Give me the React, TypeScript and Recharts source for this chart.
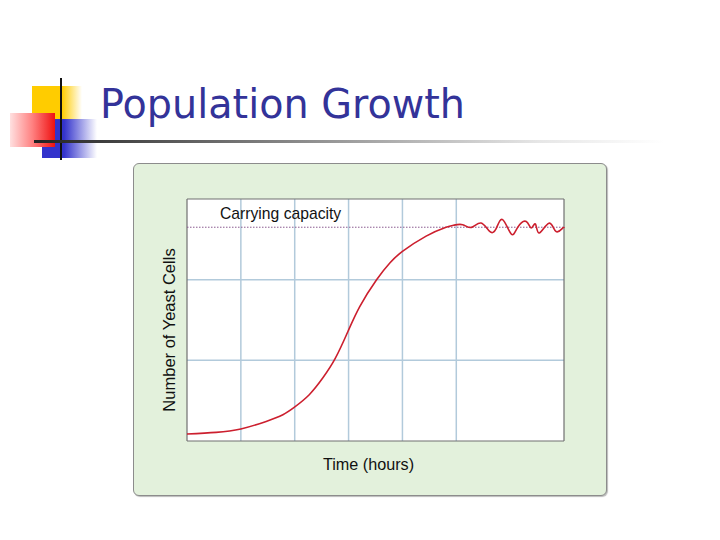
import React from 'react';
import { LineChart, Line, XAxis, YAxis, CartesianGrid, ReferenceLine } from 'recharts';

// Time (hours, in grid units) and number of yeast cells (arbitrary units)
const timeHours = [
  0, 0.54, 1.0, 1.47, 1.78, 1.99, 2.27, 2.52, 2.75, 2.99, 3.21, 3.52, 3.77, 4.0, 4.44, 4.81, 4.95,
  5.12, 5.28, 5.46, 5.62, 5.74, 5.86, 6.02, 6.14, 6.3, 6.39, 6.47, 6.54, 6.72, 6.85, 6.97, 7,
];
const yeastCells = [
  0.087, 0.107, 0.149, 0.243, 0.326, 0.417, 0.574, 0.78, 1.02, 1.36, 1.67, 2.0, 2.21, 2.35, 2.54, 2.65, 2.675,
  2.681, 2.648, 2.702, 2.598, 2.632, 2.744, 2.566, 2.648, 2.722, 2.64, 2.69, 2.578, 2.7, 2.598, 2.636, 2.64,
];
const carryingCapacity = 2.65;
const xDomain = [0, 7];
const yDomain = [0, 3];
const xGrid = [1, 2, 3, 4, 5];
const yGrid = [1, 2];
const titleText = 'Population Growth';
const capacityLabel = 'Carrying capacity';
const xLabel = 'Time (hours)';
const yLabel = 'Number of Yeast Cells';

const data = timeHours.map((t, i) => ({ t, n: yeastCells[i] }));

const FONT = '"Liberation Sans", Arial, sans-serif';
const GRID = '#b2cadb';
const FRAME = '#707070';

export default function App() {
  return (
    <div style={{ position: 'absolute', left: 0, top: 0, width: 720, height: 540, background: '#fff', overflow: 'hidden' }}>
      {/* decorative bullet squares */}
      <div style={{ position: 'absolute', left: 32, top: 86, width: 50, height: 33, background: 'linear-gradient(to right, #ffcc00 0%, #ffcc00 60%, rgba(255,204,0,0) 100%)' }} />
      <div style={{ position: 'absolute', left: 42, top: 119, width: 55, height: 39, background: 'linear-gradient(to right, #3333cc 0%, #3333cc 40%, rgba(51,51,204,0) 100%)' }} />
      <div style={{ position: 'absolute', left: 10, top: 113, width: 45, height: 34, background: 'linear-gradient(to right, #ffe0e0 0%, #ff8080 50%, #ee1111 100%)' }} />
      <div style={{ position: 'absolute', left: 60, top: 78, width: 2, height: 82, background: '#111' }} />
      <div style={{ position: 'absolute', left: 34, top: 140, width: 630, height: 3, background: 'linear-gradient(to right, #222 0%, #555 20%, #aaa 55%, #e6e6e6 80%, rgba(255,255,255,0) 100%)' }} />
      <svg style={{ position: 'absolute', left: 0, top: 0 }} width={720} height={160}>
        <text x={100} y={118} textLength={365} lengthAdjust="spacingAndGlyphs" fontFamily='"DejaVu Sans", sans-serif' fontSize={40} fill="#333399">
          {titleText}
        </text>
      </svg>

      {/* chart panel */}
      <div style={{ position: 'absolute', left: 133, top: 163, width: 472, height: 331, background: '#e3f1dc', border: '1px solid #8c8c8c', borderRadius: 6, boxShadow: '1px 1px 1px #bbb' }} />
      <div style={{ position: 'absolute', left: 133, top: 163 }}>
        <LineChart width={474} height={333} data={data} margin={{ top: 36, right: 43, bottom: 55, left: 54 }}>
          <CartesianGrid horizontal={false} vertical={false} fill="#ffffff" fillOpacity={1} />
          <XAxis dataKey="t" type="number" domain={xDomain} tick={false} tickLine={false} height={0} axisLine={false} />
          <YAxis type="number" domain={yDomain} tick={false} tickLine={false} width={0} axisLine={false} />
          {xGrid.map((v) => (
            <ReferenceLine key={`gx${v}`} x={v} stroke={GRID} strokeWidth={1.5} />
          ))}
          {yGrid.map((v) => (
            <ReferenceLine key={`gy${v}`} y={v} stroke={GRID} strokeWidth={1.5} />
          ))}
          <ReferenceLine
            x={xDomain[0]}
            stroke={FRAME}
            strokeWidth={1.2}
            label={(props: any) => {
              const vb = props.viewBox || {};
              const cx = (vb.x ?? 54) - 18;
              const cy = (vb.y ?? 36) + (vb.height ?? 242) / 2 + 10;
              return (
                <text x={cx} y={cy} transform={`rotate(-90 ${cx} ${cy})`} textAnchor="middle" dominantBaseline="central" fill="#111" fontFamily={FONT} fontSize={16.5}>
                  {yLabel}
                </text>
              );
            }}
          />
          <ReferenceLine x={xDomain[1]} stroke={FRAME} strokeWidth={1.2} />
          <ReferenceLine
            y={yDomain[0]}
            stroke={FRAME}
            strokeWidth={1.2}
            label={(props: any) => {
              const vb = props.viewBox || {};
              const cx = (vb.x ?? 54) + (vb.width ?? 377) / 2 - 7;
              const cy = (vb.y ?? 278) + 23;
              return (
                <text x={cx} y={cy} textAnchor="middle" dominantBaseline="central" fill="#111" fontFamily={FONT} fontSize={16.2}>
                  {xLabel}
                </text>
              );
            }}
          />
          <ReferenceLine y={yDomain[1]} stroke={FRAME} strokeWidth={1.2} />
          <ReferenceLine
            y={carryingCapacity}
            stroke="#8a5a8f"
            strokeDasharray="1.5 1.5"
            strokeWidth={1}
            label={(props: any) => {
              const vb = props.viewBox || {};
              return (
                <text x={(vb.x ?? 54) + 33} y={(vb.y ?? 64) - 8} textAnchor="start" fill="#111" fontFamily={FONT} fontSize={15.7}>
                  {capacityLabel}
                </text>
              );
            }}
          />
          <Line type="natural" dataKey="n" stroke="#cc1f2e" strokeWidth={1.6} dot={false} isAnimationActive={false} />
        </LineChart>
      </div>
    </div>
  );
}
